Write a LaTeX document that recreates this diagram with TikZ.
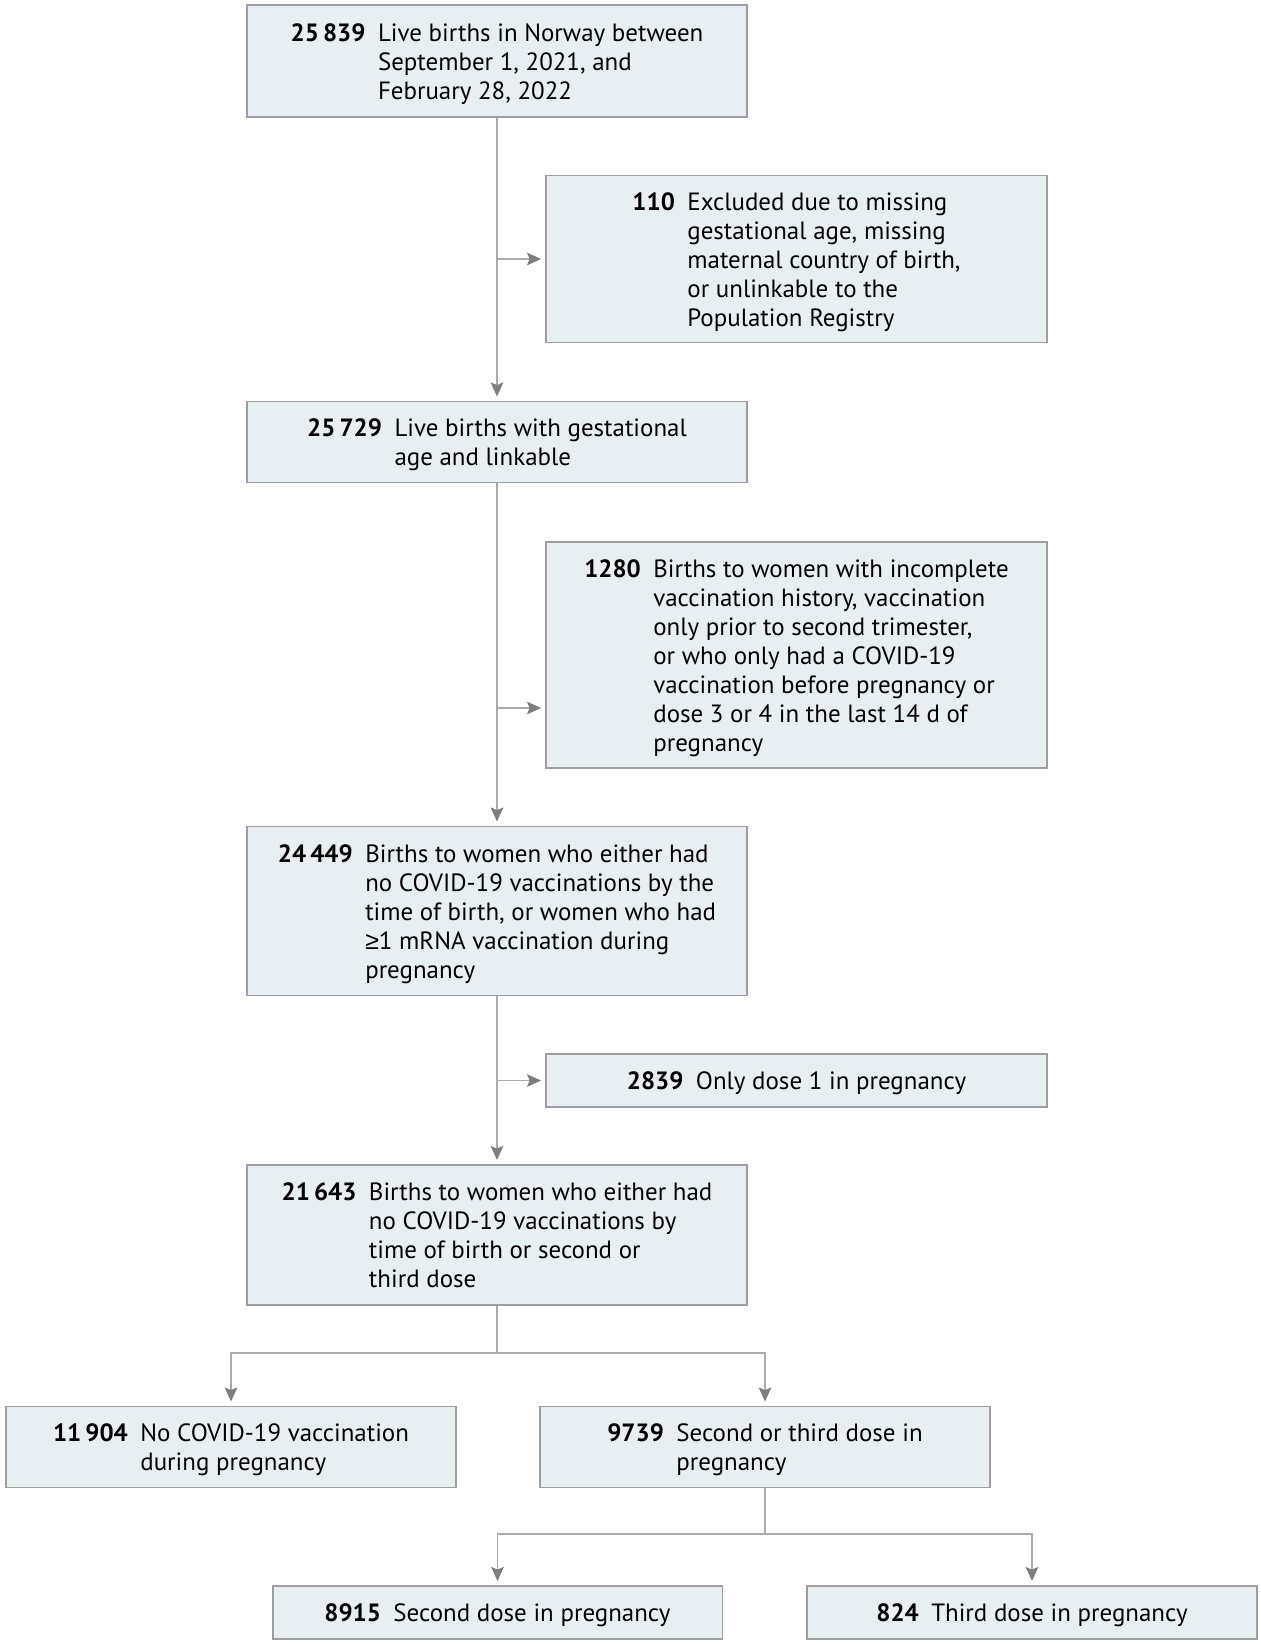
\documentclass[tikz,border=0pt]{standalone}
\usepackage{fontspec}
\setmainfont{PT Sans}
\newfontfamily\symfont{Liberation Sans}
\usetikzlibrary{arrows.meta}

\definecolor{boxfill}{HTML}{E8EFF3}
\definecolor{boxline}{HTML}{9C9EA0}
\definecolor{connline}{HTML}{A9ABAD}
\definecolor{tipgray}{HTML}{7C7E80}

% number in bold, then the lines of text hanging after it
\newcommand{\cnt}[2]{\raisebox{-2pt}[\height][\depth]{\textbf{#1}\enspace\begin{tabular}[t]{@{}l@{}}#2\end{tabular}}}

\begin{document}
\begin{tikzpicture}[
    x=0.02cm, y=-0.02cm,
    box/.style={rectangle,draw=boxline,fill=boxfill,line width=1.1pt,inner sep=0pt,
        font=\fontsize{14.2}{16.5}\selectfont},
    main/.style={box,minimum width=10cm},
    side/.style={box,minimum width=10.02cm},
    leaf/.style={box,minimum width=9cm},
    conn/.style={draw=connline,line width=1.1pt},
    arrow/.style={conn,-{Stealth[length=0.28cm,width=0.25cm,inset=0.05cm,color=tipgray]},shorten >=0.08cm},
]
\useasboundingbox (0,0) rectangle (1260,1645);

% main column
\node[main,minimum height=2.24cm] (live) at (497,61)
    {\cnt{25\,839}{Live births in Norway between\\September 1, 2021, and\\February 28, 2022}};
\node[main,minimum height=1.62cm] (linked) at (497,442)
    {\cnt{25\,729}{Live births with gestational\\age and linkable}};
\node[main,minimum height=3.38cm] (vacc) at (497,911)
    {\cnt{24\,449}{Births to women who either had\\no COVID-19 vaccinations by the\\time of birth, or women who had\\{\symfont ≥}1 mRNA vaccination during\\pregnancy}};
\node[main,minimum height=2.8cm] (cohort) at (497,1235)
    {\cnt{21\,643}{Births to women who either had\\no COVID-19 vaccinations by\\time of birth or second or\\third dose}};

% exclusions
\node[side,minimum height=3.34cm] (nogest) at (796.5,259)
    {\cnt{110}{Excluded due to missing\\gestational age, missing\\maternal country of birth,\\or unlinkable to the\\Population Registry}};
\node[side,minimum height=4.52cm] (incompl) at (796.5,655)
    {\cnt{1280}{Births to women with incomplete\\vaccination history, vaccination\\only prior to second trimester,\\or who only had a COVID-19\\vaccination before pregnancy or\\dose 3 or 4 in the last 14 d of\\pregnancy}};
\node[side,minimum height=1.05cm] (doseone) at (796.5,1080.5)
    {\cnt{2839}{Only dose 1 in pregnancy}};

% groups
\node[leaf,minimum height=1.62cm] (unvax) at (231,1447)
    {\cnt{11\,904}{No COVID-19 vaccination\\during pregnancy}};
\node[leaf,minimum height=1.62cm] (vax) at (765,1447)
    {\cnt{9739}{Second or third dose in\\pregnancy}};
\node[leaf,minimum height=1.06cm] (second) at (497.5,1612.5)
    {\cnt{8915}{Second dose in pregnancy}};
\node[leaf,minimum height=1.06cm] (third) at (1032,1612.5)
    {\cnt{824}{Third dose in pregnancy}};

% flow down the main column
\draw[arrow] (live) -- (linked);
\draw[arrow] (linked) -- (vacc);
\draw[arrow] (vacc) -- (cohort);

% side exits
\coordinate (tap1) at (497,259);
\coordinate (tap2) at (497,708);
\coordinate (tap3) at (497,1080.5);
\draw[arrow] (tap1) -- (tap1 -| nogest.west);
\draw[arrow] (tap2) -- (tap2 -| incompl.west);
\draw[arrow] (tap3) -- (tap3 -| doseone.west);

% splits
\coordinate (split1) at (497,1353);
\coordinate (split2) at (765,1534);
\draw[conn] (cohort) -- (split1);
\draw[arrow] (split1) -| (unvax);
\draw[arrow] (split1) -| (vax);
\draw[conn] (vax) -- (split2);
\draw[arrow] (split2) -| (second);
\draw[arrow] (split2) -| (third);
\end{tikzpicture}
\end{document}
